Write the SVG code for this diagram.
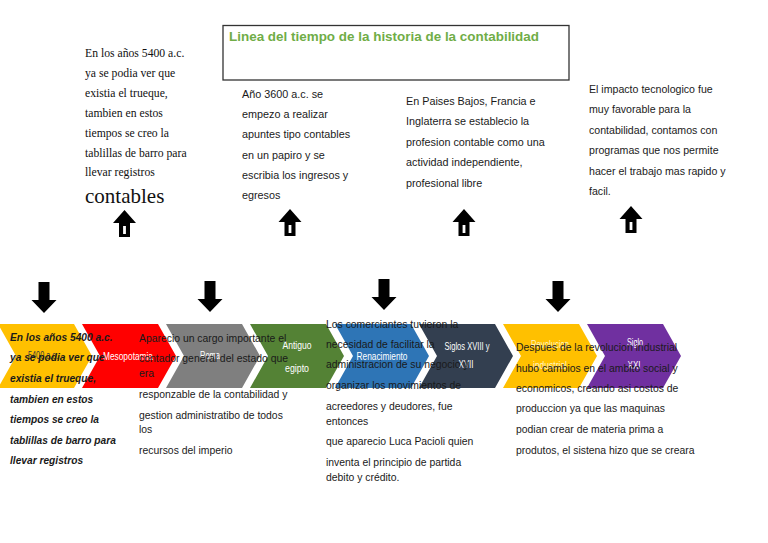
<svg xmlns="http://www.w3.org/2000/svg" width="768" height="543" viewBox="0 0 768 543">
<defs>
<style>
.serif{font-family:"Liberation Serif","Times New Roman",serif;font-size:11.7px;fill:#111}
.sans{font-family:"Liberation Sans",Arial,sans-serif;font-size:10.4px;fill:#1a1a1a}
.ital{font-family:"Liberation Sans",Arial,sans-serif;font-size:10.2px;font-style:italic;font-weight:bold;fill:#1a1a1a}
.lbl{font-family:"Liberation Sans",Arial,sans-serif;font-size:10.5px;fill:#fff;text-anchor:middle}
.title{font-family:"Liberation Sans",Arial,sans-serif;font-size:13px;font-weight:bold;fill:#70AD47}
</style>
<path id="chev" d="M0,324 H76 L94,356 L76,388 H0 L18,356 Z"/>
<g id="up">
<path d="M0,0 L11.5,13 H5.5 V27 H-5.5 V13 H-11.5 Z" fill="#000"/>
<rect x="-1.4" y="16" width="2.8" height="8" fill="#fff"/>
</g>
<path id="down" d="M-5.5,0 H5.5 V18 H12.5 L0,31 L-12.5,18 H-5.5 Z" fill="#000"/>
</defs>
<rect width="768" height="543" fill="#fff"/>

<g id="title">
<rect x="223" y="25.5" width="346" height="54.5" fill="#fff" stroke="#333" stroke-width="1.3"/>
<text class="title" x="229" y="41" textLength="310" lengthAdjust="spacingAndGlyphs">Linea del tiempo de la historia de la contabilidad</text>
</g>

<g id="chevrons">
<use href="#chev" x="-2" fill="#FFC000"/>
<use href="#chev" x="82" fill="#FF0000"/>
<use href="#chev" x="166" fill="#7F7F7F"/>
<use href="#chev" x="250" fill="#548235"/>
<use href="#chev" x="335" fill="#2E75B6"/>
<use href="#chev" x="419" fill="#333F50"/>
<use href="#chev" x="503" fill="#FFC000"/>
<use href="#chev" x="587" fill="#7030A0"/>
</g>

<g id="chevron-labels">
<text class="lbl" x="43" y="359" style="fill:#3a3a3a" textLength="30" lengthAdjust="spacingAndGlyphs">5400 a.c.</text>
<text class="lbl" x="128" y="360" textLength="50" lengthAdjust="spacingAndGlyphs">Mesopotamia</text>
<text class="lbl" x="210" y="359" textLength="20" lengthAdjust="spacingAndGlyphs">Roma</text>
<text class="lbl" x="297" y="349" textLength="29" lengthAdjust="spacingAndGlyphs">Antiguo</text>
<text class="lbl" x="297" y="372" textLength="24" lengthAdjust="spacingAndGlyphs">egipto</text>
<text class="lbl" x="382" y="360" textLength="51" lengthAdjust="spacingAndGlyphs">Renacimiento</text>
<text class="lbl" x="467" y="350" textLength="45" lengthAdjust="spacingAndGlyphs">Siglos XVIII y</text>
<text class="lbl" x="466" y="368" textLength="15" lengthAdjust="spacingAndGlyphs">XVII</text>
<text class="lbl" x="550" y="348" style="fill:#fff3c4" textLength="38" lengthAdjust="spacingAndGlyphs">Revolucion</text>
<text class="lbl" x="550" y="369" style="fill:#fff3c4" textLength="34" lengthAdjust="spacingAndGlyphs">industrial</text>
<text class="lbl" x="635" y="346" textLength="16" lengthAdjust="spacingAndGlyphs">Siglo</text>
<text class="lbl" x="634" y="369" textLength="13" lengthAdjust="spacingAndGlyphs">XXI</text>
</g>

<g id="connectors">
<use href="#up" x="124.5" y="210"/>
<use href="#up" x="290" y="209"/>
<use href="#up" x="464" y="209"/>
<use href="#up" x="631" y="206"/>
<use href="#down" x="44" y="282"/>
<use href="#down" x="210" y="281"/>
<use href="#down" x="384" y="279"/>
<use href="#down" x="558" y="281"/>
</g>

<g id="text-5400-top">
<text class="serif" x="85" y="57">En los años 5400 a.c.</text>
<text class="serif" x="85" y="77">ya se podia ver que</text>
<text class="serif" x="85" y="97">existia el trueque,</text>
<text class="serif" x="85" y="117">tambien en estos</text>
<text class="serif" x="85" y="137">tiempos se creo la</text>
<text class="serif" x="85" y="157">tablillas de barro para</text>
<text class="serif" x="85" y="176">llevar registros</text>
<text class="serif" x="85" y="203" style="font-size:21px">contables</text>
</g>

<g id="text-3600">
<text class="sans" x="242" y="98" style="font-size:10.8px">Año 3600 a.c. se</text>
<text class="sans" x="242" y="118" style="font-size:10.8px">empezo a realizar</text>
<text class="sans" x="242" y="138" style="font-size:10.8px">apuntes tipo contables</text>
<text class="sans" x="242" y="159" style="font-size:10.8px">en un papiro y se</text>
<text class="sans" x="242" y="179" style="font-size:10.8px">escribia los ingresos y</text>
<text class="sans" x="242" y="199" style="font-size:10.8px">egresos</text>
</g>

<g id="text-paises">
<text class="sans" x="406" y="105" style="font-size:10.8px">En Paises Bajos, Francia e</text>
<text class="sans" x="406" y="125" style="font-size:10.8px">Inglaterra se establecio la</text>
<text class="sans" x="406" y="146" style="font-size:10.8px">profesion contable como una</text>
<text class="sans" x="406" y="166" style="font-size:10.8px">actividad independiente,</text>
<text class="sans" x="406" y="187" style="font-size:10.8px">profesional libre</text>
</g>

<g id="text-impacto">
<text class="sans" x="589" y="93" style="font-size:10.6px">El impacto tecnologico fue</text>
<text class="sans" x="589" y="113" style="font-size:10.6px">muy favorable para la</text>
<text class="sans" x="589" y="134" style="font-size:10.6px">contabilidad, contamos con</text>
<text class="sans" x="589" y="154" style="font-size:10.6px">programas que nos permite</text>
<text class="sans" x="589" y="175" style="font-size:10.6px">hacer el trabajo mas rapido y</text>
<text class="sans" x="589" y="195" style="font-size:10.6px">facil.</text>
</g>

<g id="text-5400-bottom">
<text class="ital" x="10" y="341">En los años 5400 a.c.</text>
<text class="ital" x="10" y="361">ya se podia ver que</text>
<text class="ital" x="10" y="382">existia el trueque,</text>
<text class="ital" x="10" y="403">tambien en estos</text>
<text class="ital" x="10" y="423">tiempos se creo la</text>
<text class="ital" x="10" y="444">tablillas de barro para</text>
<text class="ital" x="10" y="464">llevar registros</text>
</g>

<g id="text-roma">
<text class="sans" x="139" y="342">Aparecio un cargo importante el</text>
<text class="sans" x="139" y="362">contador general del estado que</text>
<text class="sans" x="139" y="377">era</text>
<text class="sans" x="139" y="398">responzable de la contabilidad y</text>
<text class="sans" x="139" y="419">gestion administratibo de todos</text>
<text class="sans" x="139" y="433">los</text>
<text class="sans" x="139" y="454">recursos del imperio</text>
</g>

<g id="text-renacimiento">
<text class="sans" x="326" y="328">Los comerciantes tuvieron la</text>
<text class="sans" x="326" y="348">necesidad de facilitar la</text>
<text class="sans" x="326" y="368">administracion de su negocio y</text>
<text class="sans" x="326" y="389">organizar los movimientos de</text>
<text class="sans" x="326" y="410">acreedores y deudores, fue</text>
<text class="sans" x="326" y="425">entonces</text>
<text class="sans" x="326" y="445">que aparecio Luca Pacioli quien</text>
<text class="sans" x="326" y="466">inventa el principio de partida</text>
<text class="sans" x="326" y="481">debito y crédito.</text>
</g>

<g id="text-revolucion">
<text class="sans" x="516" y="351">Despues de la revolucion industrial</text>
<text class="sans" x="516" y="372">hubo cambios en el ambito social y</text>
<text class="sans" x="516" y="392">economicos, creando asi costos de</text>
<text class="sans" x="516" y="412">produccion ya que las maquinas</text>
<text class="sans" x="516" y="433">podian crear de materia prima a</text>
<text class="sans" x="516" y="454">produtos, el sistena hizo que se creara</text>
</g>
</svg>
